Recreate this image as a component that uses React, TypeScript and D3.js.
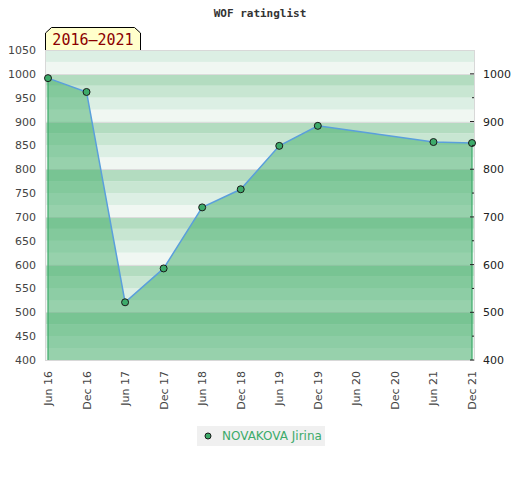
import React from "react";
import * as d3 from "d3";

// half-year rating periods shown on the x axis
const periods = [
  "Jun 16", "Dec 16", "Jun 17", "Dec 17", "Jun 18", "Dec 18",
  "Jun 19", "Dec 19", "Jun 20", "Dec 20", "Jun 21", "Dec 21",
];

// NOVAKOVA Jirina ratings (no list in Jun 20 / Dec 20)
const ratingPeriods = [
  "Jun 16", "Dec 16", "Jun 17", "Dec 17", "Jun 18", "Dec 18",
  "Jun 19", "Dec 19", "Jun 21", "Dec 21",
];
const ratings = [991, 962, 521, 592, 720, 758, 849, 891, 857, 855];

const leftTicks = [400, 450, 500, 550, 600, 650, 700, 750, 800, 850, 900, 950, 1000, 1050];
const rightTicks = [400, 500, 600, 700, 800, 900, 1000];
const rightMinor = [450, 550, 650, 750, 850, 950];

const title = "WOF ratinglist";
const rangeLabel = "2016–2021";
const playerName = "NOVAKOVA Jirina";

const width = 520;
const height = 480;
const plot = { left: 45, right: 475, top: 50, bottom: 360 };

const bandColors: Record<number, string> = {
  75: "#b3dcc0",
  50: "#c8e6d2",
  25: "#dcefe4",
  0: "#f0f7f2",
};

export default function App() {
  const x = d3.scalePoint<string>().domain(periods).range([48, 472]);
  const y = d3.scaleLinear().domain([400, 1050]).range([plot.bottom, plot.top]);

  const points = ratingPeriods.map((p, i) => ({ p, v: ratings[i] }));

  const bands = d3.range(400, 1050, 25);

  const area = d3
    .area<{ p: string; v: number }>()
    .x((d) => x(d.p)!)
    .y0(y(400))
    .y1((d) => y(d.v));
  const line = d3
    .line<{ p: string; v: number }>()
    .x((d) => x(d.p)!)
    .y((d) => y(d.v));

  const first = points[0];
  const last = points[points.length - 1];
  const font = "'DejaVu Sans', sans-serif";

  return (
    <svg
      width={width}
      height={height}
      style={{ position: "absolute", left: 0, top: 0, background: "#fff" }}
    >
      <text
        x={260}
        y={17}
        textAnchor="middle"
        fontFamily="'DejaVu Sans Mono', monospace"
        fontWeight="bold"
        fontSize={11}
        fill="#333"
      >
        {title}
      </text>

      {/* striped background */}
      {bands.map((v) => (
        <rect
          key={v}
          x={plot.left}
          width={plot.right - plot.left}
          y={y(v + 25)}
          height={y(v) - y(v + 25)}
          fill={bandColors[v % 100]}
        />
      ))}
      {rightTicks.map((v) => (
        <line
          key={v}
          x1={plot.left}
          x2={plot.right}
          y1={Math.round(y(v)) + 0.5}
          y2={Math.round(y(v)) + 0.5}
          stroke="#dcdcdc"
        />
      ))}
      <rect
        x={plot.left + 0.5}
        y={plot.top + 0.5}
        width={plot.right - plot.left - 1}
        height={plot.bottom - plot.top}
        fill="none"
        stroke="#d8d8d8"
      />

      {/* area + line */}
      <path d={area(points)!} fill="rgb(62,171,102)" fillOpacity={0.5} />
      <line x1={x(first.p)} x2={x(first.p)} y1={y(first.v)} y2={y(400)} stroke="#3cab6a" strokeWidth={1.2} />
      <line x1={x(last.p)} x2={x(last.p)} y1={y(last.v)} y2={y(400)} stroke="#3cab6a" strokeWidth={1.2} />
      <path d={line(points)!} fill="none" stroke="#5a9fdc" strokeWidth={1.5} />
      {points.map((d) => (
        <circle key={d.p} cx={x(d.p)} cy={y(d.v)} r={3.5} fill="#3dab6a" stroke="#1a1a1a" strokeWidth={1} />
      ))}

      {/* left axis */}
      {leftTicks.map((v) => (
        <text key={v} x={36} y={y(v) + 4} textAnchor="end" fontFamily={font} fontSize={11} fill="#444">
          {v}
        </text>
      ))}

      {/* right axis */}
      {rightTicks.map((v) => (
        <g key={v}>
          <line x1={470} x2={474} y1={y(v)} y2={y(v)} stroke="#222" />
          <text x={483} y={y(v) + 4} fontFamily={font} fontSize={11} fill="#222">
            {v}
          </text>
        </g>
      ))}
      {rightMinor.map((v) => (
        <line key={v} x1={472} x2={474} y1={y(v)} y2={y(v)} stroke="#222" />
      ))}

      {/* x axis labels */}
      {periods.map((p) => (
        <text
          key={p}
          transform={`translate(${x(p)! + 4},${371}) rotate(-90)`}
          textAnchor="end"
          fontFamily={font}
          fontSize={11}
          fill="#444"
        >
          {p}
        </text>
      ))}

      {/* period label */}
      <path d="M45.5,50 L45.5,33 L51.5,27.5 L134.5,27.5 L140.5,33 L140.5,50" fill="#ffffcc" stroke="#000" />
      <text
        x={93}
        y={45}
        textAnchor="middle"
        fontFamily="'DejaVu Sans Mono', monospace"
        fontSize={15}
        fill="#8b0000"
      >
        {rangeLabel}
      </text>

      {/* legend */}
      <rect x={197} y={426} width={128} height={20} fill="#f0f0f0" />
      <circle cx={208} cy={436} r={3} fill="#3dab6a" stroke="#1a1a1a" />
      <text x={222} y={440} fontFamily={font} fontSize={12} fill="#3cab6a">
        {playerName}
      </text>
    </svg>
  );
}
